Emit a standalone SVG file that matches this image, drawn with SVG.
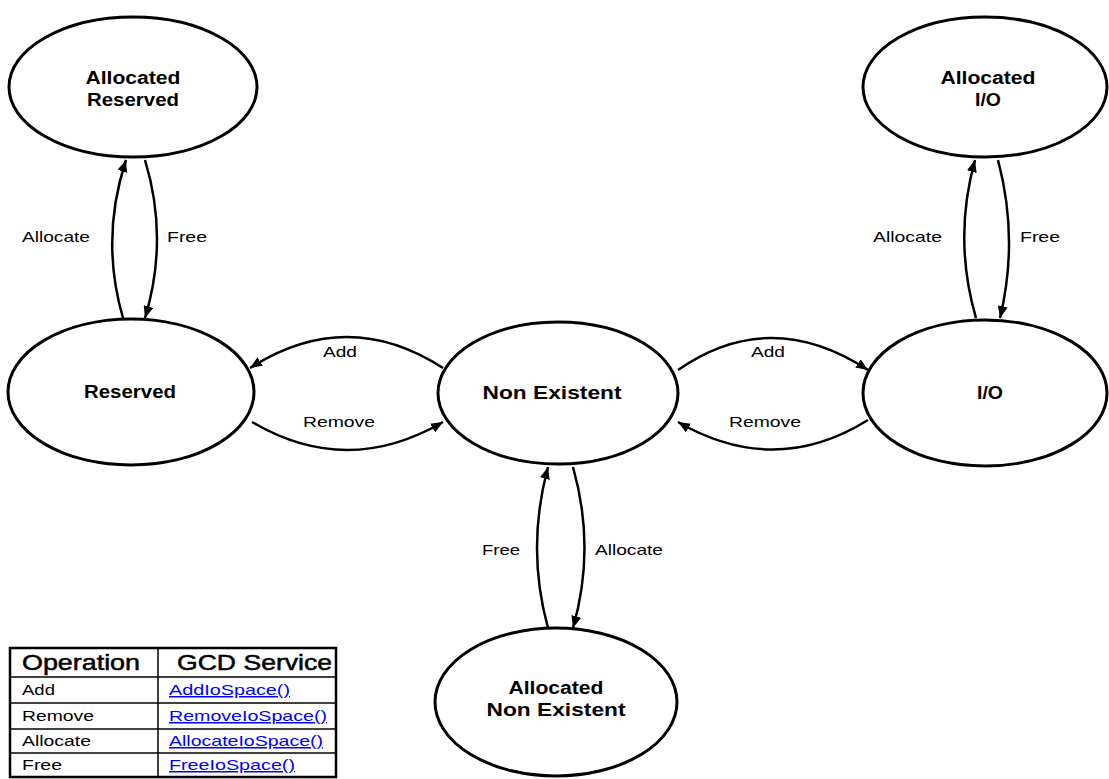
<svg xmlns="http://www.w3.org/2000/svg" width="1109" height="779" viewBox="0 0 1109 779">
<defs>
<marker id="ah" viewBox="0 0 12 10" refX="12" refY="5" markerWidth="12" markerHeight="10" markerUnits="userSpaceOnUse" orient="auto">
<path d="M0,0 L12,5 L0,10 Z" fill="#000"/>
</marker>
<style>
.node ellipse{fill:#fff;stroke:#000;stroke-width:3}
.nl{font-family:"Liberation Sans",Arial,sans-serif;font-weight:bold;font-size:18px;fill:#000;text-anchor:middle}
.edge{fill:none;stroke:#000;stroke-width:2.5;marker-end:url(#ah)}
.el{font-family:"Liberation Sans",Arial,sans-serif;font-size:15px;fill:#000}
.tt{font-family:"Liberation Sans",Arial,sans-serif;font-size:15px;fill:#000}
.th{font-family:"Liberation Sans",Arial,sans-serif;font-size:22px;fill:#000;stroke:#000;stroke-width:0.5}
.lk{font-family:"Liberation Sans",Arial,sans-serif;font-size:15px;fill:#0000ff;text-decoration:underline}
.tl{stroke:#000;stroke-width:1.5}
</style>
</defs>
<rect width="1109" height="779" fill="#fff"/>

<g id="connectors">
<path class="edge" d="M123,318 Q100,239 126,160"/>
<path class="edge" d="M145,160 Q169,239 145,318"/>
<path class="edge" d="M976,318 Q953,239 975,160"/>
<path class="edge" d="M998,160 Q1019,239 1000,318"/>
<path class="edge" d="M573,467 Q596,548 573,628"/>
<path class="edge" d="M548,628 Q526,548 548,467"/>
<path class="edge" d="M443,368 Q347,306 250,368"/>
<path class="edge" d="M252,422 Q347,478 443,422"/>
<path class="edge" d="M678,370 Q770,306 868,370"/>
<path class="edge" d="M868,420 Q775,478 678,422"/>
<text class="el" x="22" y="242" textLength="68" lengthAdjust="spacingAndGlyphs">Allocate</text>
<text class="el" x="167" y="242" textLength="40" lengthAdjust="spacingAndGlyphs">Free</text>
<text class="el" x="873" y="242" textLength="69" lengthAdjust="spacingAndGlyphs">Allocate</text>
<text class="el" x="1020" y="242" textLength="40" lengthAdjust="spacingAndGlyphs">Free</text>
<text class="el" x="323" y="357" textLength="34" lengthAdjust="spacingAndGlyphs">Add</text>
<text class="el" x="303" y="427" textLength="72" lengthAdjust="spacingAndGlyphs">Remove</text>
<text class="el" x="751" y="357" textLength="34" lengthAdjust="spacingAndGlyphs">Add</text>
<text class="el" x="729" y="427" textLength="72" lengthAdjust="spacingAndGlyphs">Remove</text>
<text class="el" x="482" y="555" textLength="38" lengthAdjust="spacingAndGlyphs">Free</text>
<text class="el" x="595" y="555" textLength="68" lengthAdjust="spacingAndGlyphs">Allocate</text>
</g>

<g id="allocated-reserved" class="node">
<ellipse cx="133" cy="87" rx="124" ry="70"/>
<text class="nl" x="133" y="84" textLength="95" lengthAdjust="spacingAndGlyphs">Allocated</text>
<text class="nl" x="133" y="106" textLength="92" lengthAdjust="spacingAndGlyphs">Reserved</text>
</g>

<g id="reserved" class="node">
<ellipse cx="131" cy="392" rx="123" ry="73"/>
<text class="nl" x="130" y="398" textLength="92" lengthAdjust="spacingAndGlyphs">Reserved</text>
</g>

<g id="non-existent" class="node">
<ellipse cx="558" cy="393" rx="120" ry="71"/>
<text class="nl" x="552" y="399" textLength="139" lengthAdjust="spacingAndGlyphs">Non Existent</text>
</g>

<g id="io" class="node">
<ellipse cx="985" cy="393" rx="122" ry="73"/>
<text class="nl" x="990" y="399" textLength="26" lengthAdjust="spacingAndGlyphs">I/O</text>
</g>

<g id="allocated-io" class="node">
<ellipse cx="985" cy="87" rx="122" ry="70"/>
<text class="nl" x="988" y="84" textLength="95" lengthAdjust="spacingAndGlyphs">Allocated</text>
<text class="nl" x="988" y="106" textLength="26" lengthAdjust="spacingAndGlyphs">I/O</text>
</g>

<g id="allocated-non-existent" class="node">
<ellipse cx="556" cy="702" rx="121" ry="74"/>
<text class="nl" x="556" y="694" textLength="95" lengthAdjust="spacingAndGlyphs">Allocated</text>
<text class="nl" x="556" y="716" textLength="139" lengthAdjust="spacingAndGlyphs">Non Existent</text>
</g>

<g id="table">
<rect x="10" y="648" width="326" height="129" fill="#fff" stroke="#000" stroke-width="2.5"/>
<line class="tl" x1="158" y1="648" x2="158" y2="777"/>
<line class="tl" x1="10" y1="677" x2="336" y2="677"/>
<line class="tl" x1="10" y1="703" x2="336" y2="703"/>
<line class="tl" x1="10" y1="729" x2="336" y2="729"/>
<line class="tl" x1="10" y1="753" x2="336" y2="753"/>
<text class="th" x="22" y="670" textLength="118" lengthAdjust="spacingAndGlyphs">Operation</text>
<text class="th" x="177" y="670" textLength="155" lengthAdjust="spacingAndGlyphs">GCD Service</text>
<text class="tt" x="22" y="695" textLength="33" lengthAdjust="spacingAndGlyphs">Add</text>
<text class="tt" x="22" y="721" textLength="72" lengthAdjust="spacingAndGlyphs">Remove</text>
<text class="tt" x="22" y="746" textLength="69" lengthAdjust="spacingAndGlyphs">Allocate</text>
<text class="tt" x="22" y="770" textLength="40" lengthAdjust="spacingAndGlyphs">Free</text>
<text class="lk" x="169" y="695" textLength="121" lengthAdjust="spacingAndGlyphs">AddIoSpace()</text>
<text class="lk" x="169" y="721" textLength="158" lengthAdjust="spacingAndGlyphs">RemoveIoSpace()</text>
<text class="lk" x="169" y="746" textLength="154" lengthAdjust="spacingAndGlyphs">AllocateIoSpace()</text>
<text class="lk" x="169" y="770" textLength="126" lengthAdjust="spacingAndGlyphs">FreeIoSpace()</text>
</g>
</svg>
